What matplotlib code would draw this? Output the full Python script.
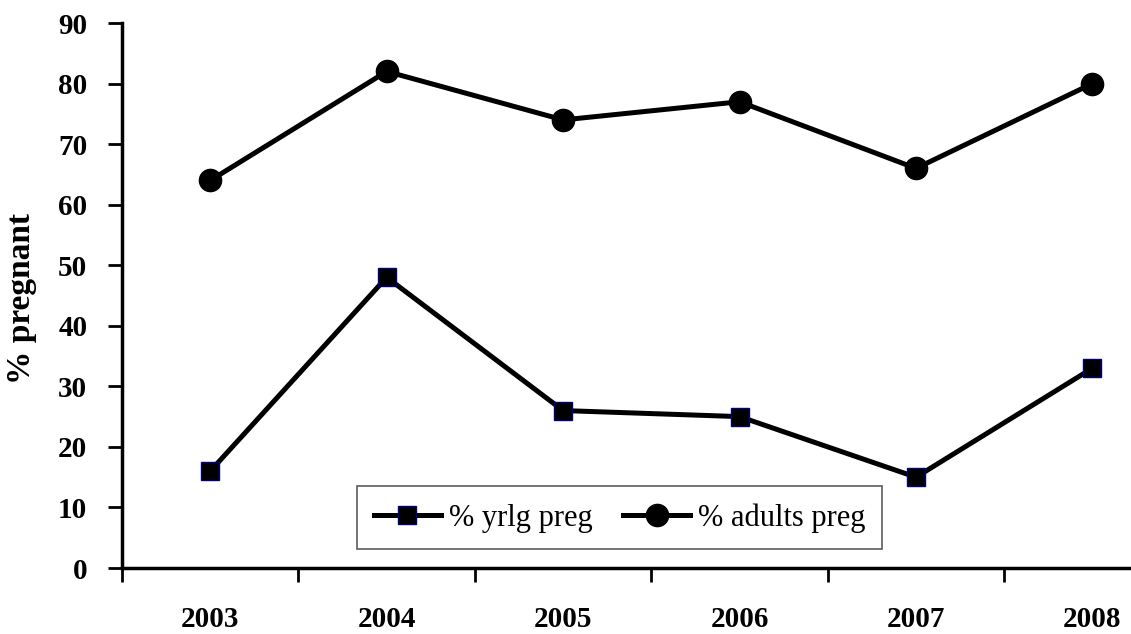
import matplotlib
matplotlib.use("Agg")
import matplotlib.pyplot as plt

# pregnancy rates by year
years = ["2003", "2004", "2005", "2006", "2007", "2008"]
yrlg_preg = [16, 48, 26, 25, 15, 33]
adults_preg = [64, 82, 74, 77, 66, 80]

plt.rcParams['font.family'] = 'Liberation Serif'

fig = plt.figure(figsize=(11.31, 6.34), dpi=100)
ax = fig.add_axes([0.1079, 0.1041, 0.936, 0.8596])

x = list(range(len(years)))
ax.plot(x, yrlg_preg, color='black', lw=3.6, marker='s', markersize=13,
        markerfacecolor='black', markeredgecolor='#000080', markeredgewidth=1,
        label='% yrlg preg')
ax.plot(x, adults_preg, color='black', lw=3.6, marker='o', markersize=16,
        markerfacecolor='black', markeredgecolor='black',
        label='% adults preg')

ax.set_xlim(-0.5, 5.5)
ax.set_ylim(0, 90)
ax.set_yticks(range(0, 91, 10))
ax.set_xticks(x)
ax.set_xticklabels(years, fontsize=21, fontweight='bold')
# category boundaries get the tick marks
ax.set_xticks([i - 0.5 for i in range(len(years) + 1)], minor=True)
ax.tick_params(axis='x', which='major', length=0, pad=27)
ax.tick_params(axis='x', which='minor', length=10, width=2, direction='out')
ax.tick_params(axis='y', length=10, width=2, direction='out', pad=15)
for lbl in ax.get_yticklabels():
    lbl.set_fontsize(21)
    lbl.set_fontweight('bold')

for s in ['top', 'right']:
    ax.spines[s].set_visible(False)
for s in ['left', 'bottom']:
    ax.spines[s].set_linewidth(2.5)

ax.set_ylabel('% pregnant', fontsize=24, fontweight='bold')
ax.yaxis.set_label_coords(-0.08, 0.495)

leg = ax.legend(loc='center', bbox_to_anchor=(0.47, 0.092), ncol=2,
                fontsize=22, frameon=True, fancybox=False, handlelength=2.2,
                columnspacing=1.0, borderpad=0.55, handletextpad=0.25)
leg.get_frame().set_edgecolor('#333333')
leg.get_frame().set_linewidth(1.2)

plt.savefig('out.png', dpi=100)
